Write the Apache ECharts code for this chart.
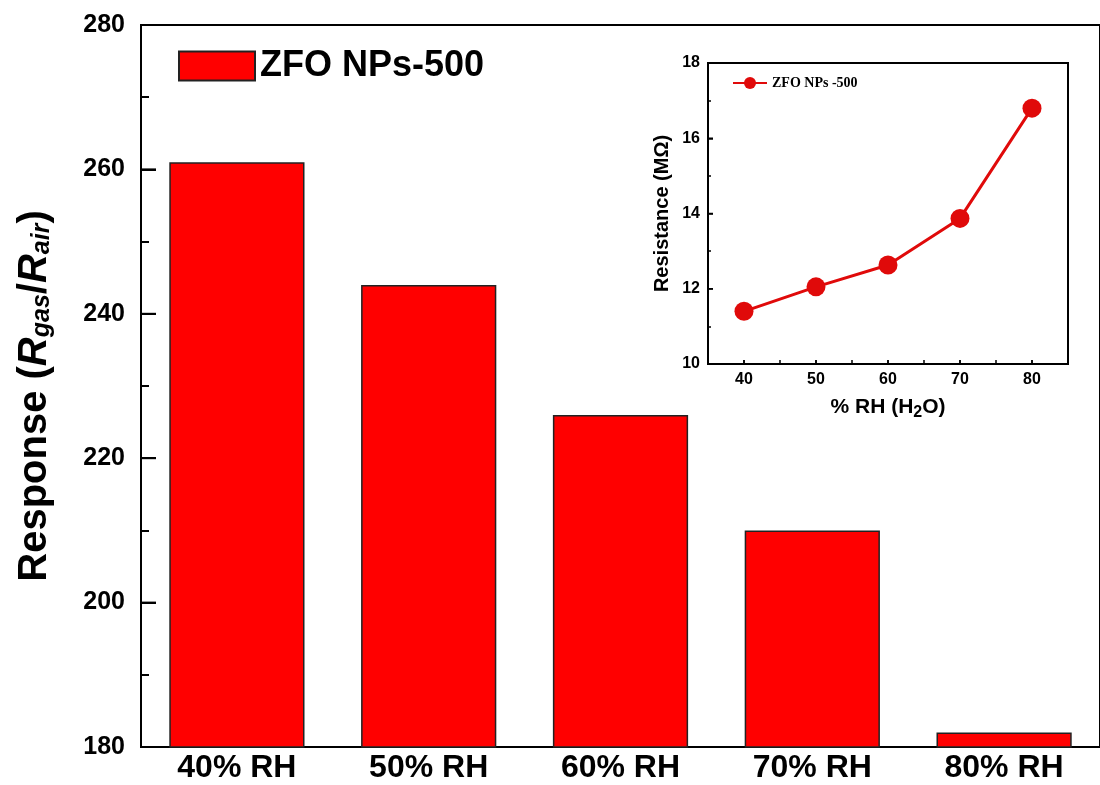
<!DOCTYPE html>
<html><head><meta charset="utf-8">
<script src="https://cdn.jsdelivr.net/npm/echarts@6/dist/echarts.min.js"></script>
<style>html,body{margin:0;padding:0;background:#fff}#c{width:1100px;height:785px}</style>
</head><body><div id="c"></div>
<script>
const categories = ['40% RH','50% RH','60% RH','70% RH','80% RH'];
const responseValues = [261, 244, 226, 210, 182];
const insetRH = [40, 50, 60, 70, 80];
const insetResistance = [11.4, 12.05, 12.63, 13.87, 16.8];
const mainSeriesName = 'ZFO NPs-500';
const insetSeriesName = 'ZFO NPs -500';
const mainYTicks = [200, 220, 240, 260];
const insetYTicks = [12, 14, 16];
const insetXTicks = [40, 50, 60, 70, 80];

const FF = '"Liberation Sans", Arial, sans-serif';

function tickY(len, width) {
  return function (params, api) {
    const cs = params.coordSys;
    const p = api.coord([api.value(0), api.value(1)]);
    return {type: 'line', shape: {x1: cs.x, y1: p[1], x2: cs.x + len, y2: p[1]},
            style: {stroke: '#000', lineWidth: width}};
  };
}
function tickX(len, width) {
  return function (params, api) {
    const cs = params.coordSys;
    const p = api.coord([api.value(0), api.value(1)]);
    const y0 = cs.y + cs.height;
    return {type: 'line', shape: {x1: p[0], y1: y0, x2: p[0], y2: y0 - len},
            style: {stroke: '#000', lineWidth: width}};
  };
}

const chart = echarts.init(document.getElementById('c'));
chart.setOption({
  animation: false,
  backgroundColor: '#fff',
  grid: [
    {left: 141, top: 25, right: 0, height: 722, show: true, borderColor: '#000', borderWidth: 2, backgroundColor: 'transparent'},
    {left: 708, top: 63, width: 360, height: 301, show: true, borderColor: '#000', borderWidth: 2, backgroundColor: '#fff'}
  ],
  legend: [
    {data: [{name: mainSeriesName, icon: 'rect'}], left: 173, top: 43, itemWidth: 76, itemHeight: 29, itemGap: 8,
     textStyle: {fontFamily: FF, fontWeight: 'bold', fontSize: 36, color: '#000'}},
    {data: [insetSeriesName], left: 727, top: 71, itemWidth: 34, itemHeight: 15, itemGap: 6,
     textStyle: {fontFamily: '"Liberation Serif", "Times New Roman", serif', fontWeight: 'bold', fontSize: 14, color: '#000'}}
  ],
  xAxis: [
    {type: 'category', gridIndex: 0, data: categories,
     axisLine: {lineStyle: {color: '#000', width: 2}}, axisTick: {show: false},
     axisLabel: {fontFamily: FF, fontWeight: 'bold', fontSize: 32, color: '#000', margin: 5}},
    {type: 'value', gridIndex: 1, min: 35, max: 85, interval: 5,
     name: '% RH (H{sub|2}O)', nameLocation: 'middle', nameGap: 29,
     nameTextStyle: {fontFamily: FF, fontWeight: 'bold', fontSize: 21, color: '#000',
       rich: {sub: {fontFamily: FF, fontWeight: 'bold', fontSize: 16, color: '#000', padding: [12, 0, 0, 0]}}},
     axisLine: {onZero: false, lineStyle: {color: '#000', width: 2}},
     axisTick: {show: true, inside: true, length: 4, lineStyle: {color: '#000', width: 1.5}},
     splitLine: {show: false},
     axisLabel: {fontFamily: FF, fontWeight: 'bold', fontSize: 16, color: '#000', margin: 8,
       formatter: v => (v % 10 === 0 ? String(v) : '')}}
  ],
  yAxis: [
    {type: 'value', gridIndex: 0, min: 180, max: 280, interval: 20,
     name: '{n|Response (}{i|R}{s|gas}{n|/}{i|R}{s|air}{n|)}', nameLocation: 'middle', nameGap: 86, nameRotate: 90,
     nameTextStyle: {padding: [0, 20, 0, 0],
       rich: {
         n: {fontFamily: FF, fontWeight: 'bold', fontSize: 40, color: '#000'},
         i: {fontFamily: FF, fontWeight: 'bold', fontStyle: 'italic', fontSize: 40, color: '#000'},
         s: {fontFamily: FF, fontWeight: 'bold', fontStyle: 'italic', fontSize: 25, color: '#000', padding: [16, 0, 0, 0]}
       }},
     axisLine: {show: true, lineStyle: {color: '#000', width: 2}},
     axisTick: {show: true, inside: true, length: 15, lineStyle: {color: '#000', width: 2}},
     minorTick: {show: true, splitNumber: 2, length: 8, lineStyle: {color: '#000', width: 2}},
     splitLine: {show: false},
     axisLabel: {fontFamily: FF, fontWeight: 'bold', fontSize: 25, color: '#000', margin: 16}},
    {type: 'value', gridIndex: 1, min: 10, max: 18, interval: 2,
     name: 'Resistance (MΩ)', nameLocation: 'middle', nameGap: 36, nameRotate: 90,
     nameTextStyle: {fontFamily: FF, fontWeight: 'bold', fontSize: 20, color: '#000'},
     axisLine: {show: true, lineStyle: {color: '#000', width: 2}},
     axisTick: {show: true, inside: true, length: 5, lineStyle: {color: '#000', width: 1.5}},
     minorTick: {show: true, splitNumber: 2, length: 3, lineStyle: {color: '#000', width: 1.5}},
     splitLine: {show: false},
     axisLabel: {fontFamily: FF, fontWeight: 'bold', fontSize: 16, color: '#000', margin: 8}}
  ],
  series: [
    {name: mainSeriesName, type: 'bar', xAxisIndex: 0, yAxisIndex: 0, data: responseValues,
     barWidth: '70.5%', itemStyle: {color: '#ff0000', borderColor: '#222', borderWidth: 1.5}},
    {name: insetSeriesName, type: 'line', xAxisIndex: 1, yAxisIndex: 1,
     data: insetRH.map((x, i) => [x, insetResistance[i]]),
     symbol: 'circle', symbolSize: 19, z: 5,
     lineStyle: {color: '#e00a0a', width: 3}, itemStyle: {color: '#e00a0a'}},
    {type: 'custom', xAxisIndex: 0, yAxisIndex: 0, silent: true, z: 10,
     data: mainYTicks.map(v => [0, v]), renderItem: tickY(15, 2)},
    {type: 'custom', xAxisIndex: 1, yAxisIndex: 1, silent: true, z: 10,
     data: insetYTicks.map(v => [40, v]), renderItem: tickY(5, 1.5)},
    {type: 'custom', xAxisIndex: 1, yAxisIndex: 1, silent: true, z: 10,
     data: insetXTicks.map(v => [v, 10]), renderItem: tickX(4, 1.5)}
  ]
});
</script></body></html>
